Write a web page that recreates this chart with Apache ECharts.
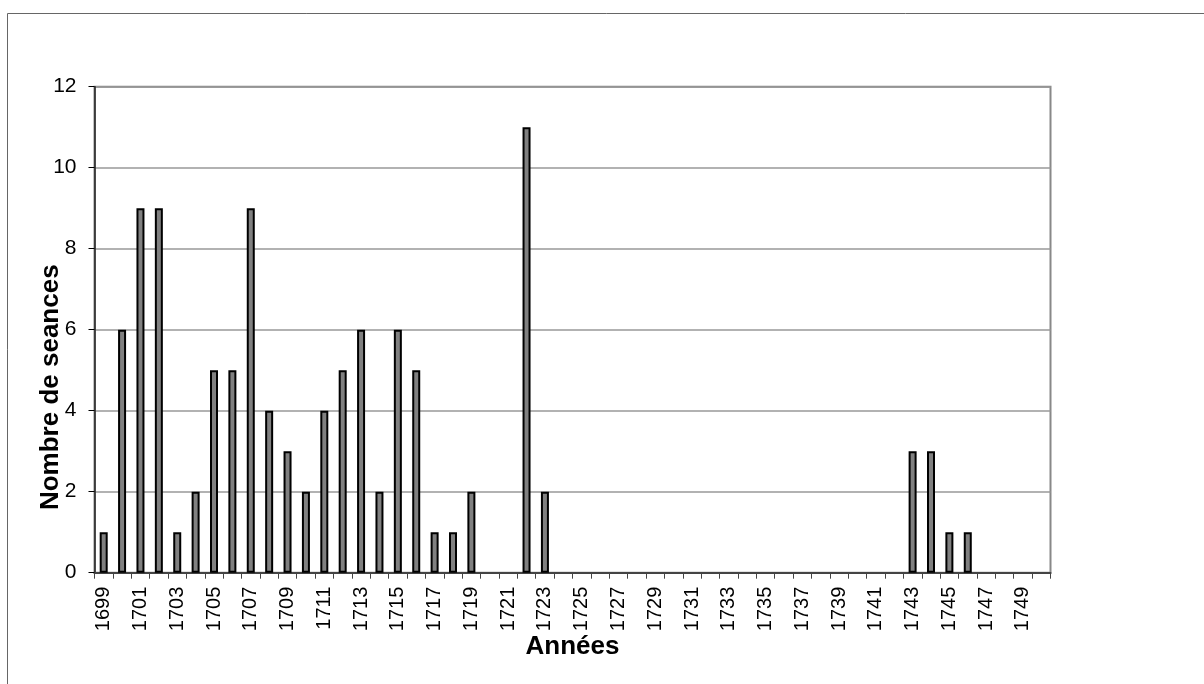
<!DOCTYPE html>
<html>
<head>
<meta charset="utf-8">
<script src="https://cdn.jsdelivr.net/npm/echarts@6/dist/echarts.min.js"></script>
<style>html,body{margin:0;padding:0;background:#fff}#c{width:1204px;height:684px}</style>
</head>
<body>
<div id="c"></div>
<script>
var years = [];
for (var y = 1699; y <= 1750; y++) years.push(String(y));
var seances = [1,6,9,9,1,2,5,5,9,4,3,2,4,5,6,2,6,5,1,1,2,0,0,11,2,
  0,0,0,0,0,0,0,0,0,0,0,0,0,0,0,0,0,0,0,3,3,1,1,0,0,0,0];
var yTicks = [0,2,4,6,8,10,12];

var barData = seances.map(function (v) {
  return v === 0 ? {value: v, itemStyle: {borderWidth: 0}} : v;
});

var chart = echarts.init(document.getElementById('c'));
chart.setOption({
  animation: false,
  textStyle: {fontFamily: 'Liberation Sans, Arial, sans-serif'},
  graphic: [{
    type: 'rect', silent: true, z: -1,
    shape: {x: 7.5, y: 13.5, width: 1400, height: 900},
    style: {fill: 'none', stroke: '#666', lineWidth: 1}
  }, {
    type: 'rect', silent: true, z: 0,
    shape: {x: 94.5, y: 86.7, width: 956, height: 486},
    style: {fill: 'none', stroke: '#888', lineWidth: 2}
  }],
  grid: {left: 94.5, right: 153.5, top: 86.7, bottom: 111.3},
  xAxis: {
    type: 'category',
    data: years,
    name: 'Années',
    nameLocation: 'middle',
    nameGap: 61,
    nameMoveOverlap: false,
    nameTextStyle: {fontSize: 26, fontWeight: 'bold', color: '#000'},
    axisLine: {lineStyle: {color: '#444', width: 2}},
    axisTick: {show: true, interval: 0, length: 6, lineStyle: {color: '#444', width: 1}},
    axisLabel: {interval: 1, rotate: 90, fontSize: 20, color: '#000', margin: 14}
  },
  yAxis: {
    type: 'value',
    min: 0, max: 12, interval: 2,
    name: 'Nombre de seances',
    nameLocation: 'middle',
    nameGap: 31,
    nameMoveOverlap: false,
    nameTextStyle: {fontSize: 26, fontWeight: 'bold', color: '#000', padding: [0, 115, 0, 0]},
    axisLine: {show: true, lineStyle: {color: '#222', width: 1.5}},
    axisTick: {show: true, length: 6, lineStyle: {color: '#000', width: 1}},
    axisLabel: {fontSize: 21, color: '#000', margin: 18,
      formatter: function (v) { return yTicks.indexOf(v) >= 0 ? String(v) : ''; }},
    splitLine: {lineStyle: {color: '#999', width: 1.5}}
  },
  series: [{
    type: 'bar',
    data: barData,
    barWidth: 8,
    itemStyle: {color: '#808080', borderColor: '#000', borderWidth: 2}
  }]
});
</script>
</body>
</html>
